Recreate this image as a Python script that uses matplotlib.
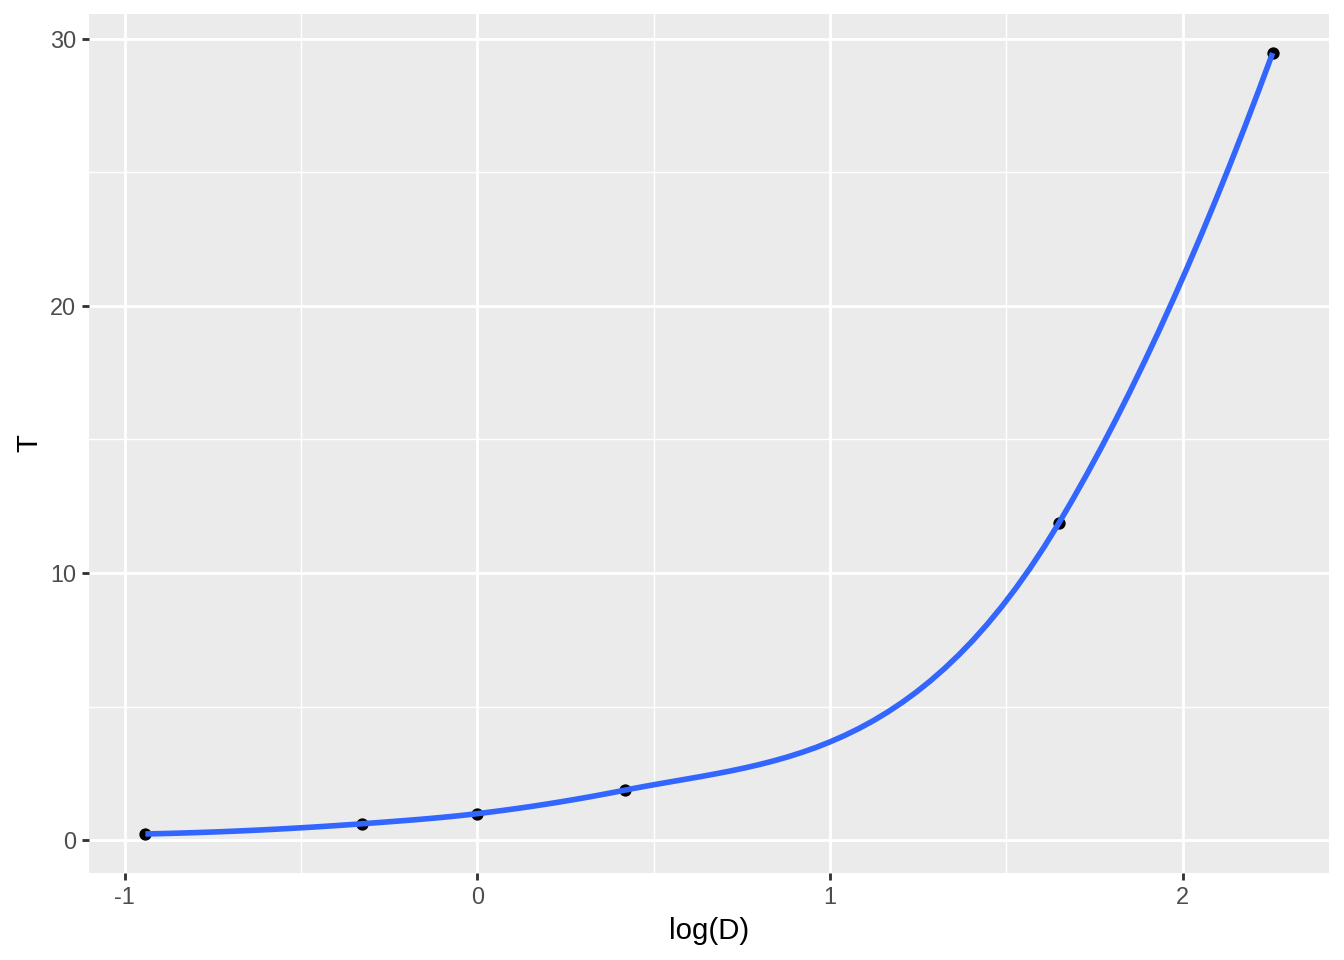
import numpy as np
import matplotlib
matplotlib.use("Agg")
import matplotlib.pyplot as plt

# 행성 데이터: 태양까지 거리 D (AU), 공전주기 T (년)
planets = ["Mercury", "Venus", "Earth", "Mars", "Jupiter", "Saturn"]
D = [0.39, 0.72, 1.00, 1.52, 5.20, 9.54]
T = [0.24, 0.62, 1.00, 1.88, 11.86, 29.46]

x = np.log(D)
y = np.array(T)

# loess (span 0.75, degree 2) - vertex 값/기울기 + cubic hermite 보간
def local_fit(x0, x, y, span=0.75):
    n = len(x)
    q = int(np.floor(n * span))
    d = np.abs(x - x0)
    rho = np.sort(d)[q - 1]
    w = np.clip(1 - (d / rho) ** 3, 0, None) ** 3
    X = np.column_stack([np.ones(n), x - x0, (x - x0) ** 2])
    W = np.sqrt(w)
    coef = np.linalg.lstsq(X * W[:, None], y * W, rcond=None)[0]
    return coef[0], coef[1]

vx = np.sort(x)
vals = [local_fit(v, x, y) for v in vx]
vy = np.array([v[0] for v in vals])
vs = np.array([v[1] for v in vals])

xs = np.linspace(x.min(), x.max(), 80)
ys = []
for xx in xs:
    i = min(np.searchsorted(vx, xx, side="right") - 1, len(vx) - 2)
    h = vx[i + 1] - vx[i]
    t = (xx - vx[i]) / h
    h00 = 2 * t**3 - 3 * t**2 + 1
    h10 = t**3 - 2 * t**2 + t
    h01 = -2 * t**3 + 3 * t**2
    h11 = t**3 - t**2
    ys.append(h00 * vy[i] + h10 * h * vs[i] + h01 * vy[i + 1] + h11 * h * vs[i + 1])
ys = np.array(ys)

plt.rcParams['font.family'] = ['Liberation Sans', 'DejaVu Sans']
fig = plt.figure(figsize=(7, 5), dpi=192)
ax = fig.add_axes([89 / 1344, 1 - 873 / 960, (1329 - 89) / 1344, (873 - 14) / 960])
ax.set_facecolor('#EBEBEB')
for s in ax.spines.values():
    s.set_visible(False)

ax.scatter(x, y, s=13, color='black', zorder=3)
ax.plot(xs, ys, color='#3366FF', lw=2.1, zorder=4, solid_capstyle='butt')

xr = x.max() - x.min()
ax.set_xlim(x.min() - 0.05 * xr, x.max() + 0.05 * xr)
ylo = min(ys.min(), y.min())
yhi = max(ys.max(), y.max())
yr = yhi - ylo
ax.set_ylim(ylo - 0.05 * yr, yhi + 0.05 * yr)

ax.set_xticks([-1, 0, 1, 2])
ax.set_xticklabels(['-1', '0', '1', '2'])
ax.set_yticks([0, 10, 20, 30])
ax.set_xticks([-0.5, 0.5, 1.5], minor=True)
ax.set_yticks([5, 15, 25], minor=True)
ax.grid(which='major', color='white', lw=1.07)
ax.grid(which='minor', color='white', lw=0.53)
ax.set_axisbelow(True)
ax.tick_params(which='major', length=2.75, width=1.07, color='#333333',
               labelsize=8.8, labelcolor='#4D4D4D', pad=2.2)
ax.tick_params(which='minor', length=0)

ax.set_xlabel('log(D)', fontsize=11, labelpad=3)
ax.set_ylabel('T', fontsize=11, labelpad=2.5)

fig.savefig('out.png', dpi=192)
